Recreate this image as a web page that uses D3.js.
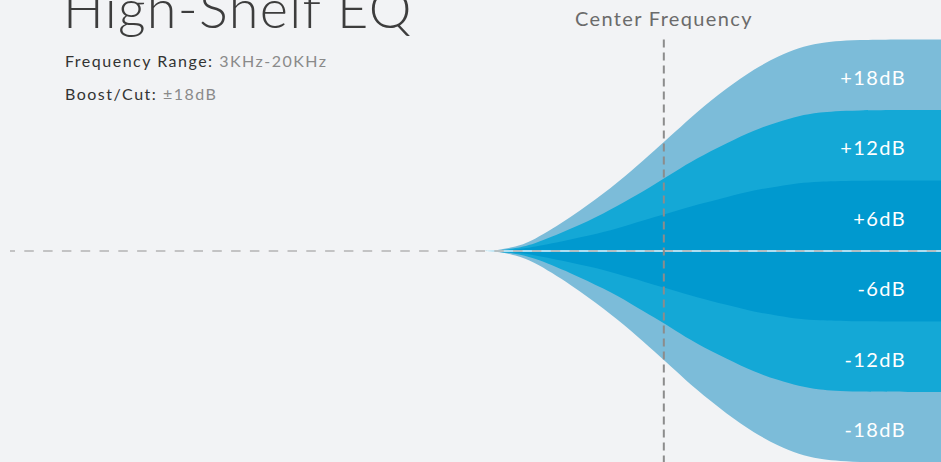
<!DOCTYPE html>
<html>
<head>
<meta charset="utf-8">
<script src="https://cdn.jsdelivr.net/npm/d3@7"></script>
<style>
  html, body { margin: 0; padding: 0; background: #f2f3f5; }
  svg { display: block; }
</style>
</head>
<body>
<svg id="chart" width="941" height="462"></svg>
<script>
// ---- data ----
const frequencies = [1500, 1600, 1800, 2000, 2500, 3000, 3500, 4000, 4500, 5000, 6000, 7000, 8000, 9000, 10000, 12000, 20000];
const boost18 = [0, 0, 0.3, 0.8, 2.9, 4.9, 6.8, 8.6, 10.2, 11.7, 13.9, 15.5, 16.6, 17.3, 17.7, 18, 18];
const boost12 = [0, 0, 0.2, 0.5, 1.9, 3.2, 4.5, 5.7, 6.8, 7.8, 9.2, 10.3, 11.0, 11.5, 11.8, 12, 12];
const boost6  = [0, 0, 0.1, 0.3, 1.0, 1.6, 2.3, 2.9, 3.4, 3.9, 4.6, 5.2, 5.5, 5.8, 5.9, 6, 6];
const cut6  = [0, 0, -0.1, -0.3, -1.0, -1.6, -2.3, -2.9, -3.4, -3.9, -4.6, -5.2, -5.5, -5.8, -5.9, -6, -6];
const cut12 = [0, 0, -0.2, -0.5, -1.9, -3.2, -4.5, -5.7, -6.8, -7.8, -9.2, -10.3, -11.0, -11.5, -11.8, -12, -12];
const cut18 = [0, 0, -0.3, -0.8, -2.9, -4.9, -6.8, -8.6, -10.2, -11.7, -13.9, -15.5, -16.6, -17.3, -17.7, -18, -18];
const bandLabels = ["+18dB", "+12dB", "+6dB", "-6dB", "-12dB", "-18dB"];
const bandEdges = [[12, 18], [6, 12], [0, 6], [-6, 0], [-12, -6], [-18, -12]];
const centerFrequency = 4200;
const titleText = "High-Shelf EQ";
const infoLabels = ["Frequency Range: ", "Boost/Cut: "];
const infoValues = ["3KHz-20KHz", "±18dB"];

// ---- layout ----
const W = 941, H = 462;
const svg = d3.select("#chart");
const x = d3.scaleLog().domain([100, 20000]).range([0, W]);
const y = d3.scaleLinear().domain([-18, 18]).range([462.5, 39.5]);

const colors = { outer: "#7cbcd9", mid: "#14a8d6", inner: "#0099cf" };
const font = "Lato, 'Open Sans', sans-serif";

svg.append("rect").attr("width", W).attr("height", H).attr("fill", "#f2f3f5");

function area(vals) {
  return d3.area()
    .x((d, i) => x(frequencies[i]))
    .y0(() => y(0))
    .y1((d) => y(d))
    .curve(d3.curveBasis)(vals);
}

const layers = [
  [boost18, colors.outer], [cut18, colors.outer],
  [boost12, colors.mid], [cut12, colors.mid],
  [boost6, colors.inner], [cut6, colors.inner]
];
svg.append("g").selectAll("path").data(layers).join("path")
  .attr("d", d => area(d[0]))
  .attr("fill", d => d[1]);

// zero-gain white line across the curves
svg.append("line")
  .attr("x1", x(1550)).attr("x2", W)
  .attr("y1", y(0)).attr("y2", y(0))
  .attr("stroke", "#e8f6fc").attr("stroke-width", 1.5);

// dashed horizontal 0 dB line
svg.append("line")
  .attr("x1", 10).attr("x2", W)
  .attr("y1", y(0)).attr("y2", y(0))
  .attr("stroke", "#b4b4b4").attr("stroke-width", 1.5)
  .attr("stroke-dasharray", "9.5 9.3")
  .attr("stroke-dashoffset", 4.5);

// dashed vertical center-frequency line
svg.append("line")
  .attr("x1", x(centerFrequency)).attr("x2", x(centerFrequency))
  .attr("y1", y(18)).attr("y2", H)
  .attr("stroke", "#8c8c8c").attr("stroke-width", 2)
  .attr("stroke-dasharray", "8 5");

// band labels
svg.append("g").selectAll("text").data(bandLabels).join("text")
  .attr("x", 906)
  .attr("y", (d, i) => (y(bandEdges[i][0]) + y(bandEdges[i][1])) / 2 + 10)
  .attr("text-anchor", "end")
  .attr("fill", "#ffffff")
  .attr("font-family", font)
  .attr("font-size", 20)
  .attr("letter-spacing", 1.4)
  .text(d => d);

// title
svg.append("text")
  .attr("x", 63).attr("y", 28)
  .attr("font-family", font).attr("font-weight", 300)
  .attr("font-size", 54).attr("letter-spacing", 1.3)
  .attr("fill", "#3d3d3d")
  .text(titleText);

// info lines
const info = svg.append("g").selectAll("text").data(infoLabels).join("text")
  .attr("x", 65)
  .attr("y", (d, i) => 67 + i * 33)
  .attr("font-family", font).attr("font-size", 16)
  .attr("letter-spacing", 1.5);
info.append("tspan").attr("fill", "#333").text(d => d);
info.append("tspan").attr("fill", "#8a8a8a").text((d, i) => infoValues[i]);

// center frequency label
svg.append("text")
  .attr("x", 575).attr("y", 26)
  .attr("font-family", font).attr("font-size", 20)
  .attr("letter-spacing", 1.35)
  .attr("fill", "#6b6b6b")
  .text("Center Frequency");
</script>
</body>
</html>
